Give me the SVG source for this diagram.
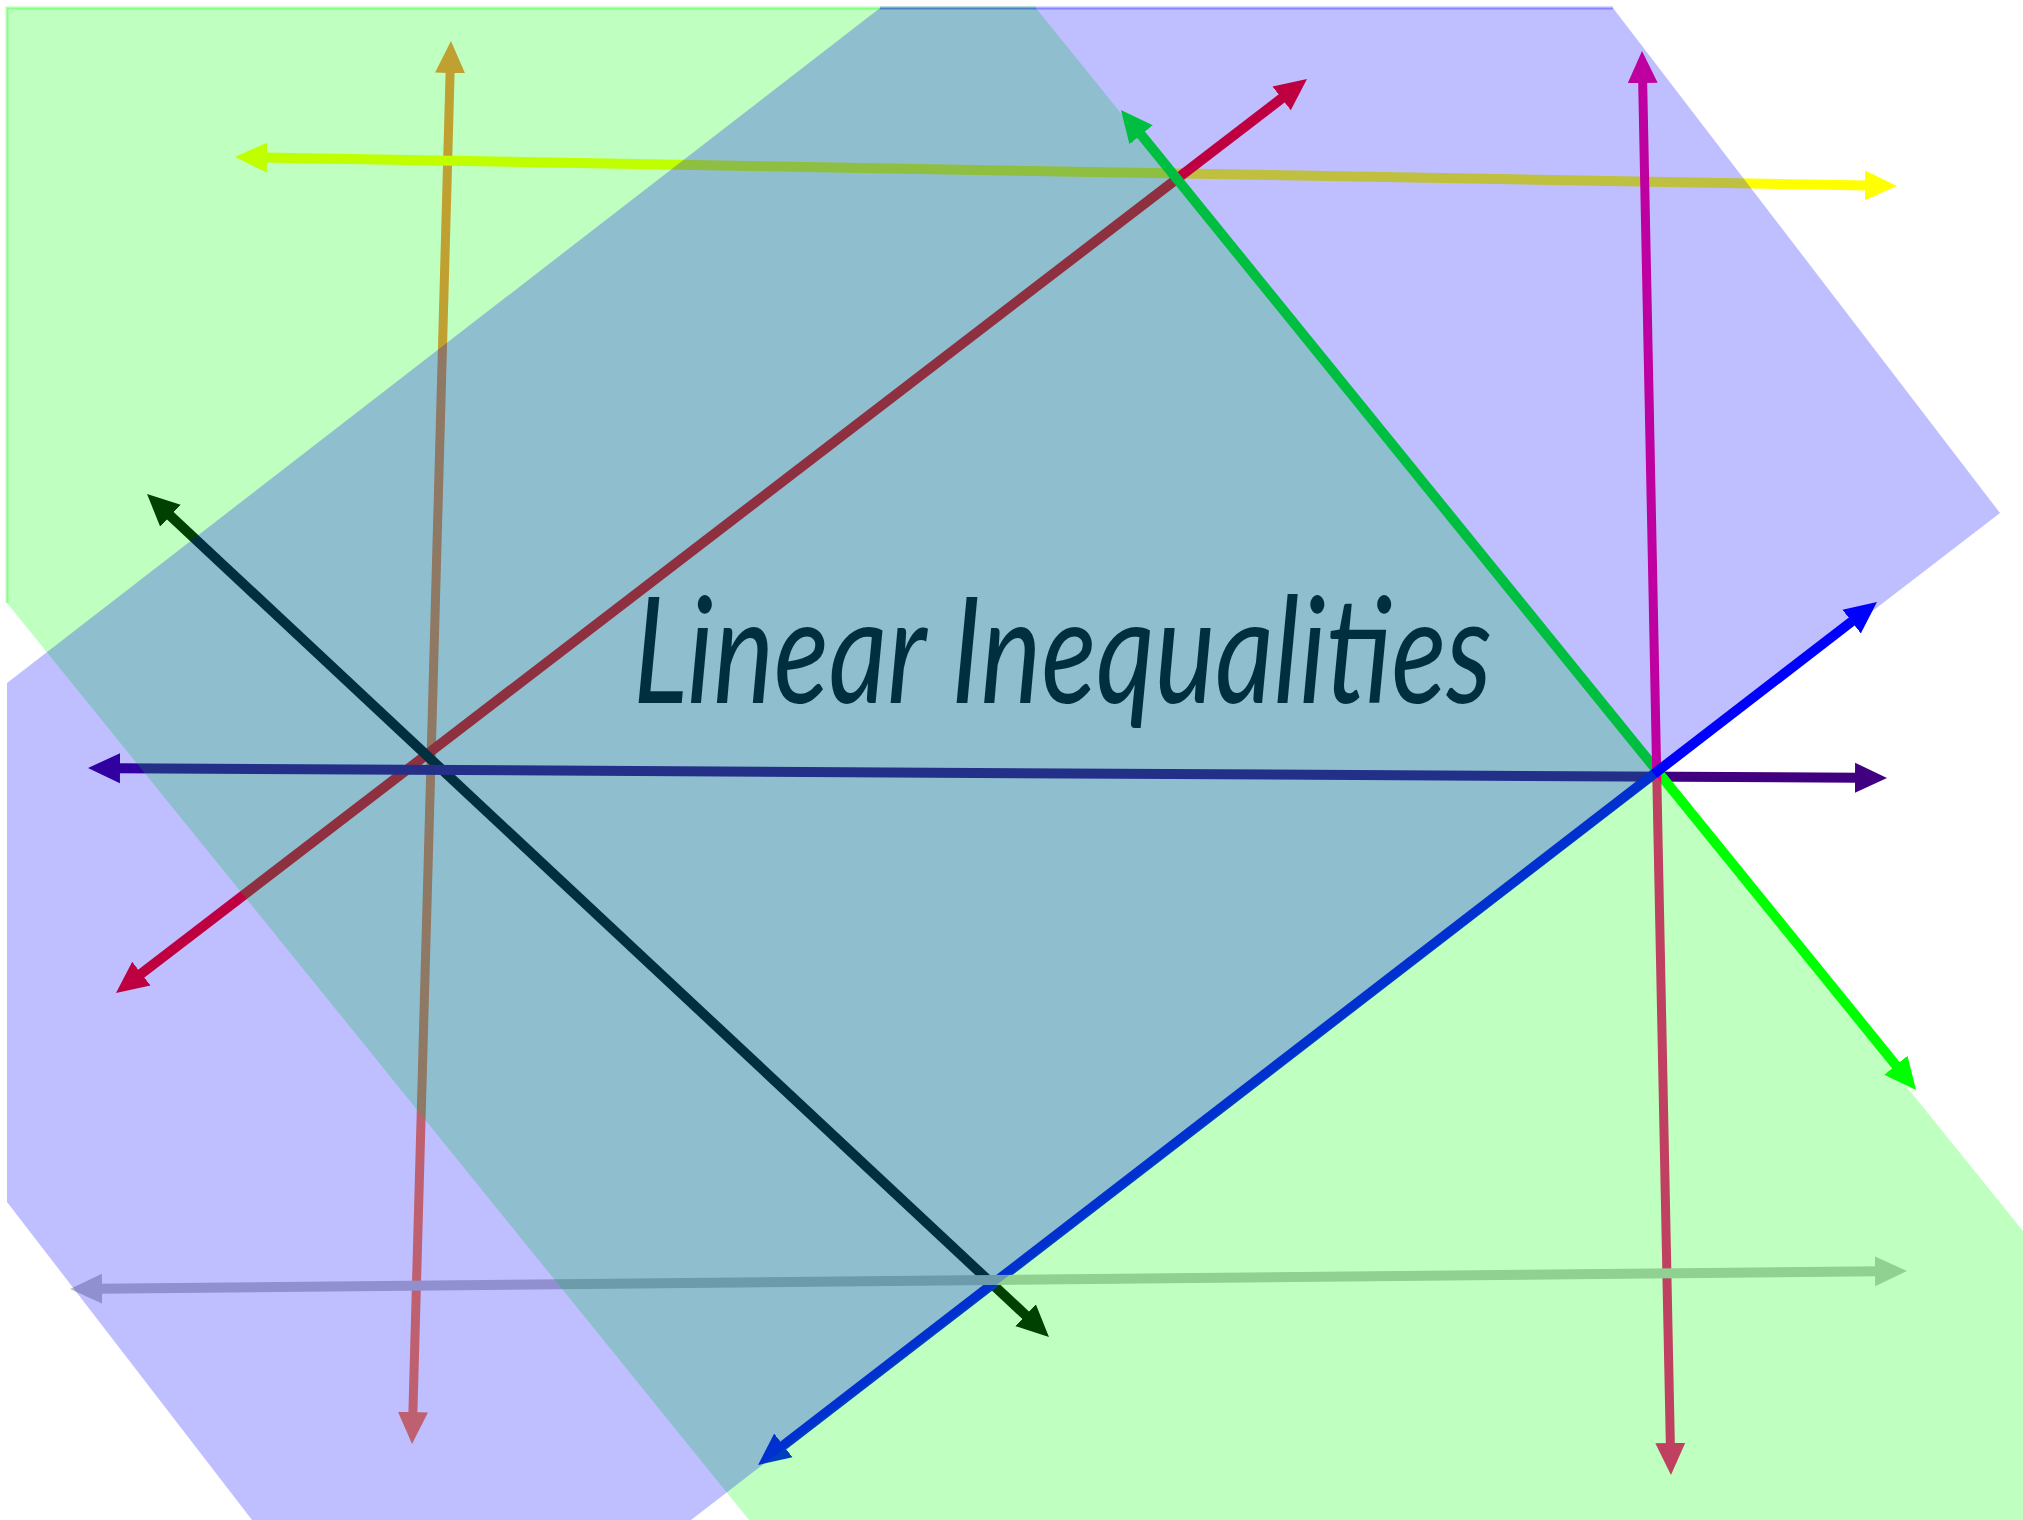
<svg xmlns="http://www.w3.org/2000/svg" width="2023" height="1520" viewBox="0 0 2023 1520">
  <style>
    .ln { fill: none; stroke-width: 10; stroke-linecap: butt; }
    .thin { stroke-width: 9; }
    .rg { fill-opacity: 0.25; stroke: none; }
    .edge { fill: none; stroke-width: 3; stroke-opacity: 0.3; }
    .green { fill: #00ff00; }
    .blue { fill: #0000ff; }
    .title { font-family: Lato, "Open Sans", "DejaVu Sans", sans-serif; font-style: italic; font-weight: 400; font-size: 148px; fill: #003040; }
  </style>
  <defs>
    <marker id="m-orange" viewBox="0 0 32 32" refX="4" refY="16" markerWidth="32" markerHeight="32" markerUnits="userSpaceOnUse" orient="auto-start-reverse"><path d="M0,1 L32,16 L0,31 Z" fill="#ff8040"/></marker>
    <marker id="m-yellow" viewBox="0 0 32 32" refX="4" refY="16" markerWidth="32" markerHeight="32" markerUnits="userSpaceOnUse" orient="auto-start-reverse"><path d="M0,1 L32,16 L0,31 Z" fill="#ffff00"/></marker>
    <marker id="m-red" viewBox="0 0 32 32" refX="4" refY="16" markerWidth="32" markerHeight="32" markerUnits="userSpaceOnUse" orient="auto-start-reverse"><path d="M0,1 L32,16 L0,31 Z" fill="#ff0000"/></marker>
    <marker id="m-black" viewBox="0 0 32 32" refX="4" refY="16" markerWidth="32" markerHeight="32" markerUnits="userSpaceOnUse" orient="auto-start-reverse"><path d="M0,1 L32,16 L0,31 Z" fill="#000000"/></marker>
    <marker id="m-indigo" viewBox="0 0 32 32" refX="4" refY="16" markerWidth="32" markerHeight="32" markerUnits="userSpaceOnUse" orient="auto-start-reverse"><path d="M0,1 L32,16 L0,31 Z" fill="#400080"/></marker>
    <marker id="m-lime" viewBox="0 0 32 32" refX="4" refY="16" markerWidth="32" markerHeight="32" markerUnits="userSpaceOnUse" orient="auto-start-reverse"><path d="M0,1 L32,16 L0,31 Z" fill="#00ff00"/></marker>
    <marker id="m-magenta" viewBox="0 0 32 32" refX="4" refY="16" markerWidth="32" markerHeight="32" markerUnits="userSpaceOnUse" orient="auto-start-reverse"><path d="M0,1 L32,16 L0,31 Z" fill="#ff0080"/></marker>
    <marker id="m-blue" viewBox="0 0 32 32" refX="4" refY="16" markerWidth="32" markerHeight="32" markerUnits="userSpaceOnUse" orient="auto-start-reverse"><path d="M0,1 L32,16 L0,31 Z" fill="#0000ff"/></marker>
    <marker id="m-silver" viewBox="0 0 32 32" refX="4" refY="16" markerWidth="32" markerHeight="32" markerUnits="userSpaceOnUse" orient="auto-start-reverse"><path d="M0,1 L32,16 L0,31 Z" fill="#c0c0c0"/></marker>
  </defs>
  <rect width="2023" height="1520" fill="#ffffff"/>

  <g id="connectors">
    <line class="ln thin" x1="450.2" y1="69" x2="412.8" y2="1416" stroke="#ff8040" marker-start="url(#m-orange)" marker-end="url(#m-orange)"/>
    <line class="ln" x1="263" y1="157.5" x2="1869" y2="185.5" stroke="#ffff00" marker-start="url(#m-yellow)" marker-end="url(#m-yellow)"/>
    <line class="ln" x1="1284.8" y1="96" x2="138.2" y2="976" stroke="#ff0000" marker-start="url(#m-red)" marker-end="url(#m-red)"/>
    <line class="ln" x1="167.5" y1="513.1" x2="1028.5" y2="1317.9" stroke="#000000" marker-start="url(#m-black)" marker-end="url(#m-black)"/>
    <line class="ln" x1="116" y1="768.2" x2="1859" y2="777.8" stroke="#400080" marker-start="url(#m-indigo)" marker-end="url(#m-indigo)"/>
    <line class="ln" x1="1138.6" y1="131.7" x2="1898.4" y2="1068.3" stroke="#00ff00" marker-start="url(#m-lime)" marker-end="url(#m-lime)"/>
    <line class="ln thin" x1="1642.6" y1="79" x2="1670.4" y2="1447" stroke="#ff0080" marker-start="url(#m-magenta)" marker-end="url(#m-magenta)"/>
    <line class="ln" x1="1854.8" y1="619.1" x2="780.2" y2="1447.9" stroke="#0000ff" marker-start="url(#m-blue)" marker-end="url(#m-blue)"/>
    <line class="ln" x1="98" y1="1288.7" x2="1879" y2="1271.3" stroke="#c0c0c0" marker-start="url(#m-silver)" marker-end="url(#m-silver)"/>
  </g>

  <g id="region-green">
    <polygon class="rg green" points="7,8 1036,8 2023,1231 2023,1520 749,1520 7,603"/>
    <polyline class="edge" stroke="#00ff00" points="7,603 7,8 1036,8"/>
  </g>
  <g id="region-blue">
    <polygon class="rg blue" points="880,8 1613,8 2000,513 691,1520 252,1520 7,1202 7,683"/>
    <polyline class="edge" stroke="#0000ff" points="880,8 1613,8"/>
  </g>

  <g id="title">
    <text class="title" x="633" y="703" textLength="859" lengthAdjust="spacingAndGlyphs">Linear Inequalities</text>
  </g>
</svg>
